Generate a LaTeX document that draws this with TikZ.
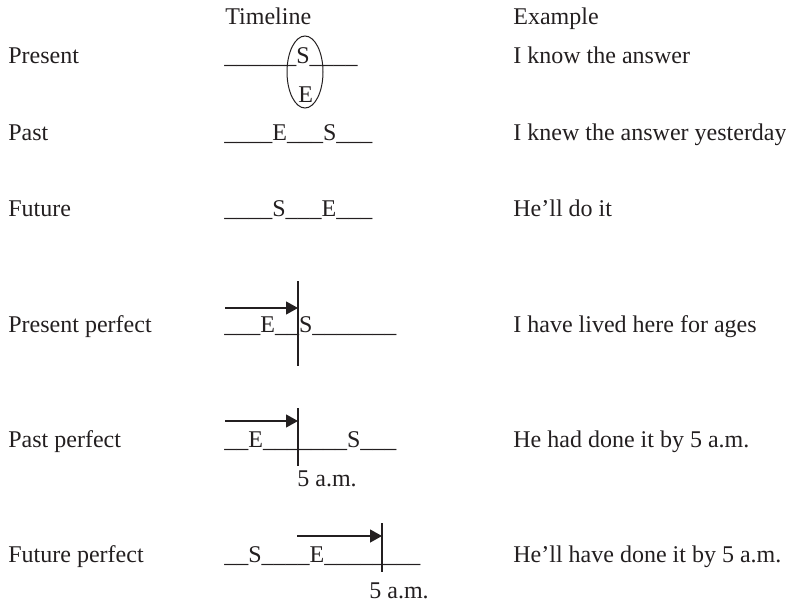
\documentclass[tikz,border=0pt]{standalone}
\usepackage{fontspec}
\setmainfont{Liberation Serif}
\usetikzlibrary{arrows.meta, shapes.geometric}
\definecolor{inkgray}{RGB}{35,31,32}
\tikzset{
    txt/.style={anchor=base west, inner sep=0pt, text=inkgray, font=\fontsize{12}{14}\selectfont},
    marker/.style={draw=inkgray, line width=0.6pt},
    pointer/.style={marker, -{Triangle[length=6pt, width=6.5pt]}},
    ring/.style={ellipse, draw=inkgray, line width=0.5pt, minimum width=18pt, minimum height=36pt, inner sep=0pt}
}
\begin{document}
\begin{tikzpicture}[x=0.5pt, y=-0.5pt]
    \useasboundingbox (0,0) rectangle (786,605);

    % column headers
    \node (hdtime) [txt] at (225,25) {Timeline};
    \node (hdex) [txt] at (513,25) {Example};

    % tense names
    \node (present) [txt] at (8,63) {Present};
    \node (past) [txt] at (8,140) {Past};
    \node (future) [txt] at (8,216) {Future};
    \node (presperf) [txt] at (8,332) {Present perfect};
    \node (pastperf) [txt] at (8,447) {Past perfect};
    \node (futperf) [txt] at (8,562) {Future perfect};

    % timelines
    \node (presline) [txt] at (224,63) {\_\_\_\_\_\_S\_\_\_\_};
    \node (presE) [txt] at (298,102) {E};
    \node (presring) [ring] at (305,72) {};
    \node (pastline) [txt] at (224,140) {\_\_\_\_E\_\_\_S\_\_\_};
    \node (futline) [txt] at (224,216) {\_\_\_\_S\_\_\_E\_\_\_};
    \node (ppline) [txt] at (224,332) {\_\_\_E\_\_S\_\_\_\_\_\_\_};
    \node (pastpline) [txt] at (224,447) {\_\_E\_\_\_\_\_\_\_S\_\_\_};
    \node (futpline) [txt] at (224,562) {\_\_S\_\_\_\_E\_\_\_\_\_\_\_\_};
    \node (pastpam) [txt] at (297,486) {5 a.m.};
    \node (futpam) [txt] at (369,598) {5 a.m.};

    % examples
    \node (expres) [txt] at (513,63) {I know the answer};
    \node (expast) [txt] at (513,140) {I knew the answer yesterday};
    \node (exfut) [txt] at (513,216) {He'll do it};
    \node (expp) [txt] at (513,332) {I have lived here for ages};
    \node (expastp) [txt] at (513,447) {He had done it by 5 a.m.};
    \node (exfutp) [txt] at (513,562) {He'll have done it by 5 a.m.};

    % marks and arrows
    \coordinate (pptop) at (298,281);
    \coordinate (ppbot) at (298,366);
    \coordinate (ppfrom) at (225,308);
    \coordinate (ppto) at (298,308);
    \draw [marker] (pptop) -- (ppbot);
    \draw [pointer] (ppfrom) -- (ppto);

    \coordinate (pastptop) at (298,408);
    \coordinate (pastpbot) at (298,466);
    \coordinate (pastpfrom) at (225,421);
    \coordinate (pastpto) at (298,421);
    \draw [marker] (pastptop) -- (pastpbot);
    \draw [pointer] (pastpfrom) -- (pastpto);

    \coordinate (futptop) at (382,523);
    \coordinate (futpbot) at (382,572);
    \coordinate (futpfrom) at (297,536);
    \coordinate (futpto) at (382,536);
    \draw [marker] (futptop) -- (futpbot);
    \draw [pointer] (futpfrom) -- (futpto);
\end{tikzpicture}
\end{document}
